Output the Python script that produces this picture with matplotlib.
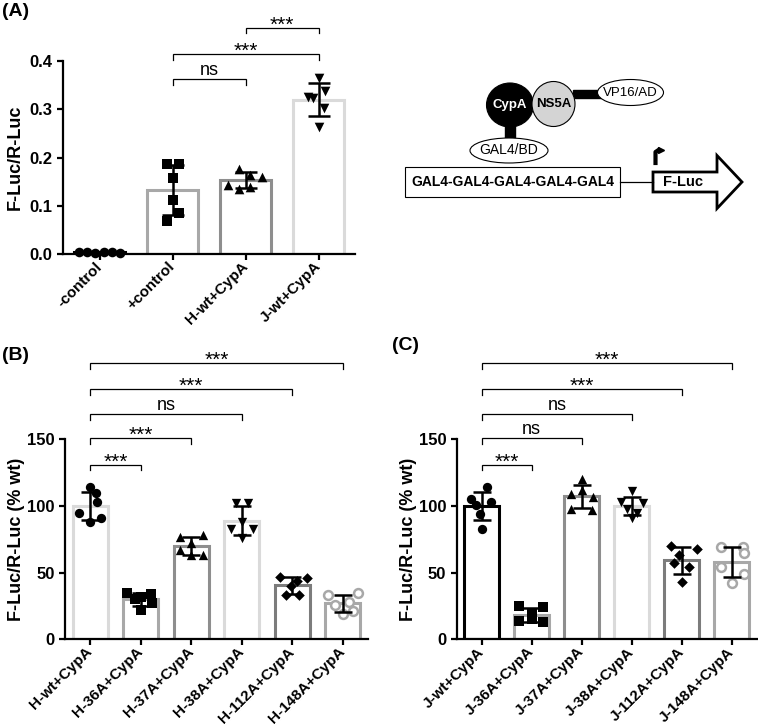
import numpy as np
import matplotlib
matplotlib.use('Agg')
import matplotlib.pyplot as plt
from matplotlib.patches import Ellipse, Rectangle, Polygon

plt.rcParams['font.family'] = ['Liberation Sans', 'DejaVu Sans']

# ---------------- panel A data ----------------
a_labels = ['-control', '+control', 'H-wt+CypA', 'J-wt+CypA']
a_points = [
    [0.004, 0.004, 0.003, 0.004, 0.004, 0.003],
    [0.187, 0.186, 0.157, 0.112, 0.085, 0.069],
    [0.177, 0.164, 0.159, 0.144, 0.135, 0.138],
    [0.326, 0.364, 0.324, 0.337, 0.302, 0.264],
]
a_sig = [(1, 2, 'ns'), (1, 3, '***'), (2, 3, '***')]
a_sig_y = [0.362, 0.414, 0.468]

# ---------------- panel B data ----------------
b_labels = ['H-wt+CypA', 'H-36A+CypA', 'H-37A+CypA', 'H-38A+CypA', 'H-112A+CypA', 'H-148A+CypA']
b_points = [
    [114.5, 109.5, 103.2, 95.0, 90.8, 88.2],
    [35, 34, 32, 30, 27, 22],
    [78, 77, 72, 67, 63, 63],
    [102, 102, 88, 83, 83, 76],
    [47, 46, 44, 40, 33, 33],
    [35, 33, 28, 26, 21, 19],
]
b_sig = [(0, 1, '***'), (0, 2, '***'), (0, 3, 'ns'), (0, 4, '***'), (0, 5, '***')]

# ---------------- panel C data ----------------
c_labels = ['J-wt+CypA', 'J-36A+CypA', 'J-37A+CypA', 'J-38A+CypA', 'J-112A+CypA', 'J-148A+CypA']
c_points = [
    [114, 105, 103, 101, 94, 83],
    [25, 24, 20, 14, 13, 15],
    [120, 112, 109, 107, 98, 97],
    [111, 103, 102, 98, 95, 91],
    [70, 68, 63, 57, 54, 43],
    [69, 69, 65, 54, 49, 42],
]
c_sig = [(0, 1, '***'), (0, 2, 'ns'), (0, 3, 'ns'), (0, 4, '***'), (0, 5, '***')]
bc_sig_y = [130.75, 150.75, 168.75, 187.5, 207.0]

# ---------------- styles (jitter, colours, markers) ----------------
a_jitter = [
    [-0.28, -0.17, -0.06, 0.06, 0.17, 0.28],
    [-0.07, 0.09, 0.0, 0.0, 0.09, -0.07],
    [-0.09, 0.065, 0.23, -0.24, -0.09, 0.065],
    [-0.15, 0.0, -0.07, 0.09, 0.08, 0.0],
]
b_jitter = [
    [0.0, 0.11, 0.13, -0.22, 0.21, 0.0],
    [-0.28, 0.2, 0.0, -0.12, 0.22, 0.0],
    [0.23, -0.22, 0.0, -0.22, 0.23, 0.0],
    [-0.12, 0.12, 0.0, -0.22, 0.23, 0.0],
    [-0.24, 0.3, 0.1, -0.02, -0.12, 0.14],
    [0.3, -0.3, 0.12, -0.15, 0.2, 0.0],
]
c_jitter = [
    [0.11, -0.22, 0.19, -0.12, -0.03, 0.0],
    [-0.25, 0.22, 0.0, -0.25, 0.22, 0.0],
    [0.0, 0.0, -0.22, 0.22, -0.22, 0.2],
    [0.0, -0.22, 0.22, -0.1, 0.1, 0.0],
    [-0.22, 0.3, -0.05, -0.15, 0.15, 0.0],
    [-0.22, 0.22, 0.25, -0.22, 0.25, 0.0],
]
a_colors = ['#000000', '#a8a8a8', '#8e8e8e', '#dadada']
b_colors = ['#dadada', '#a8a8a8', '#8e8e8e', '#dadada', '#7c7c7c', '#a8a8a8']
c_colors = ['#000000', '#a8a8a8', '#8e8e8e', '#dadada', '#7c7c7c', '#a8a8a8']
a_markers = ['o', 's', '^', 'v']
bc_markers = ['o', 's', '^', 'v', 'D', 'o']

W, H = 758, 728


def px_axes(fig, left, top, right, bottom):
    return fig.add_axes([left / W, 1 - bottom / H, (right - left) / W, (bottom - top) / H])


def draw_panel(ax, labels, points, jitter, colors, markers, sig, sig_y, ylim, yticks,
               ylabel, label_x, capsize, msize, leg, open_last=False, fmt='%g'):
    n = len(labels)
    for i in range(n):
        pts = np.array(points[i])
        mean = pts.mean()
        sd = pts.std(ddof=1)
        ax.bar(i, mean, width=0.7, facecolor='white', edgecolor=colors[i],
               linewidth=2.2, zorder=2)
        xs = i + np.array(jitter[i])
        m = markers[i]
        s = msize * (0.65 if m == 'D' else 1.0)
        if open_last and i == n - 1:
            ax.scatter(xs, pts, s=s * 0.9, marker='o', facecolors='white',
                       edgecolors=colors[i], linewidths=1.8, zorder=3, clip_on=False)
        else:
            ax.scatter(xs, pts, s=s, marker=m, color='black', linewidths=0,
                       zorder=3, clip_on=False)
        ax.errorbar(i, mean, yerr=sd, fmt='none', ecolor='black', elinewidth=1.8,
                    capsize=capsize, capthick=1.8, zorder=4)

    for (x1, x2, txt), y in zip(sig, sig_y):
        ax.plot([x1, x1, x2, x2], [y - leg, y, y, y - leg], color='black', lw=0.9,
                clip_on=False, solid_joinstyle='miter')
        if txt == 'ns':
            ax.annotate(txt, ((x1 + x2) / 2, y), xytext=(0, 3), textcoords='offset points',
                        ha='center', va='baseline', fontsize=13, annotation_clip=False)
        else:
            ax.annotate(txt, ((x1 + x2) / 2, y), xytext=(0, -2), textcoords='offset points',
                        ha='center', va='baseline', fontsize=15, annotation_clip=False)

    ax.set_xlim(-0.5, n - 0.5)
    ax.set_ylim(*ylim)
    ax.set_xticks(range(n))
    ax.set_xticklabels(labels, rotation=45, ha='right', va='center',
                       rotation_mode='anchor', fontweight='bold', fontsize=11)
    ax.set_yticks(yticks)
    ax.set_yticklabels([fmt % v for v in yticks], fontweight='bold', fontsize=12)
    ax.set_ylabel(ylabel, fontweight='bold', fontsize=13)
    ax.yaxis.set_label_coords(label_x, 0.5)
    ax.spines['top'].set_visible(False)
    ax.spines['right'].set_visible(False)
    for sp in ('left', 'bottom'):
        ax.spines[sp].set_linewidth(1.6)
    ax.tick_params(direction='out', length=4.5, width=1.6, pad=3)


fig = plt.figure(figsize=(W / 100, H / 100), dpi=100)

# ---- A ----
axA = px_axes(fig, 63, 61, 355, 254)
draw_panel(axA, a_labels, a_points, a_jitter, a_colors, a_markers, a_sig, a_sig_y,
           (0, 0.4), [0, 0.1, 0.2, 0.3, 0.4], 'F-Luc/R-Luc', -0.135, 8, 48, 0.011,
           fmt='%.1f')

# ---- B ----
axB = px_axes(fig, 65, 439.3, 368, 639.3)
draw_panel(axB, b_labels, b_points, b_jitter, b_colors, bc_markers, b_sig, bc_sig_y,
           (0, 150), [0, 50, 100, 150], 'F-Luc/R-Luc (% wt)', -0.132, 6.5, 45, 4.0,
           open_last=True)

# ---- C ----
axC = px_axes(fig, 456.7, 439.3, 757, 639.3)
draw_panel(axC, c_labels, c_points, c_jitter, c_colors, bc_markers, c_sig, bc_sig_y,
           (0, 150), [0, 50, 100, 150], 'F-Luc/R-Luc (% wt)', -0.132, 6.5, 45, 4.0,
           open_last=True)

# panel letters
fig.text(2 / W, 1 - 12 / H, '(A)', fontsize=14, fontweight='bold', va='center')
fig.text(2 / W, 1 - 355 / H, '(B)', fontsize=14, fontweight='bold', va='center')
fig.text(392 / W, 1 - 346 / H, '(C)', fontsize=14, fontweight='bold', va='center')

# ---- two-hybrid diagram (pixel coordinates) ----
axD = fig.add_axes([0, 0, 1, 1], zorder=-1)
axD.set_xlim(0, W)
axD.set_ylim(H, 0)
axD.axis('off')

axD.add_patch(Rectangle((505, 124), 10, 16, color='black'))
axD.add_patch(Rectangle((573, 90), 28, 7.5, color='black'))
axD.add_patch(Ellipse((510, 105), 47, 44, facecolor='black', edgecolor='black', lw=0.8))
axD.add_patch(Ellipse((553.5, 104), 43, 45, facecolor='#d4d4d4', edgecolor='black', lw=0.8))
axD.add_patch(Ellipse((630.5, 92.5), 66, 26, facecolor='white', edgecolor='black', lw=0.8))
axD.add_patch(Ellipse((509, 150.5), 78, 25, facecolor='white', edgecolor='black', lw=0.8))
axD.add_patch(Rectangle((405, 167), 215, 30, facecolor='white', edgecolor='black', lw=0.8))
axD.plot([620, 653], [182, 182], color='black', lw=0.9)
axD.add_patch(Polygon([(653, 172), (717, 172), (717, 155.5), (742, 182), (717, 208.5),
                       (717, 192), (653, 192)], closed=True, facecolor='white',
                      edgecolor='black', lw=2.0, joinstyle='miter'))
axD.plot([655.5, 655.5, 658.5], [163, 152, 150], color='black', lw=3)
axD.plot([661], [150], marker='>', color='black', markersize=4.5)

axD.text(510, 105, 'CypA', color='white', fontsize=9.5, fontweight='bold', ha='center', va='center')
axD.text(553.5, 104, 'NS5A', color='black', fontsize=9.5, fontweight='bold', ha='center', va='center')
axD.text(630.5, 92.5, 'VP16/AD', color='black', fontsize=9.5, ha='center', va='center')
axD.text(509, 150.5, 'GAL4/BD', color='black', fontsize=10, ha='center', va='center')
axD.text(512.5, 182, 'GAL4-GAL4-GAL4-GAL4-GAL4', color='black', fontsize=10,
         fontweight='bold', ha='center', va='center')
axD.text(683, 182, 'F-Luc', color='black', fontsize=10.5, fontweight='bold', ha='center', va='center')

fig.savefig('out.png', dpi=100)
